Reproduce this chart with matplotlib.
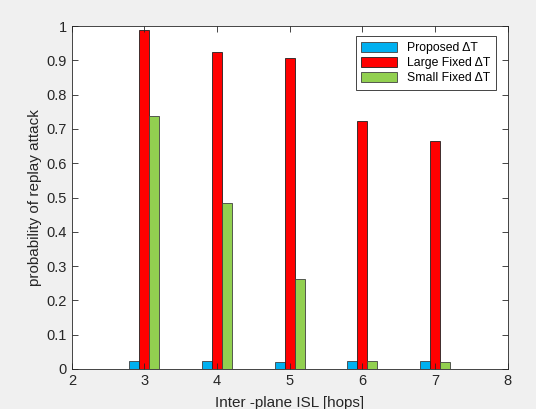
import numpy as np
from matplotlib import pyplot as plt

plt.rcParams['font.family'] = ['Liberation Sans', 'DejaVu Sans']

# data
hops = [3, 4, 5, 6, 7]
proposed = [0.022, 0.022, 0.020, 0.022, 0.022]
large_fixed = [0.988, 0.925, 0.908, 0.723, 0.665]
small_fixed = [0.737, 0.484, 0.262, 0.022, 0.020]

fig = plt.figure(figsize=(5.36, 4.09), dpi=100, facecolor='#f0f0f0')
ax = fig.add_axes([0.134, 0.098, 0.813, 0.838])

x = np.array(hops)
w = 0.138
ax.bar(x - w, proposed, w, color='#00b0f0', edgecolor='#404040', linewidth=0.6, label='Proposed \u0394T')
ax.bar(x, large_fixed, w, color='#ff0000', edgecolor='#202020', linewidth=0.6, label='Large Fixed \u0394T')
ax.bar(x + w, small_fixed, w, color='#92d050', edgecolor='#404040', linewidth=0.6, label='Small Fixed \u0394T')

ax.set_xlim(2, 8)
ax.set_ylim(0, 1)
ax.set_xticks(range(2, 9))
ax.set_yticks(np.arange(0, 1.01, 0.1))
ax.set_yticklabels(['0'] + ['%.1f' % v for v in np.arange(0.1, 0.95, 0.1)] + ['1'])

for s in ax.spines.values():
    s.set_color('#262626')
    s.set_linewidth(0.6)
ax.tick_params(direction='in', top=True, right=True, length=4, width=0.6,
               colors='#262626', labelsize=10.5)

ax.set_xlabel('Inter -plane ISL [hops]', fontsize=11, color='#262626', labelpad=6)
ax.set_ylabel('probability of replay attack', fontsize=11, color='#262626', labelpad=3)

leg = ax.legend(loc='upper right', fontsize=8.8, fancybox=False, framealpha=1,
                edgecolor='#262626', handlelength=2.9, handleheight=0.9,
                borderpad=0.45, labelspacing=0.22, handletextpad=0.85,
                borderaxespad=0, bbox_to_anchor=(0.973, 0.97))
leg.get_frame().set_linewidth(0.6)

fig.savefig('out.png', dpi=100, facecolor=fig.get_facecolor())
